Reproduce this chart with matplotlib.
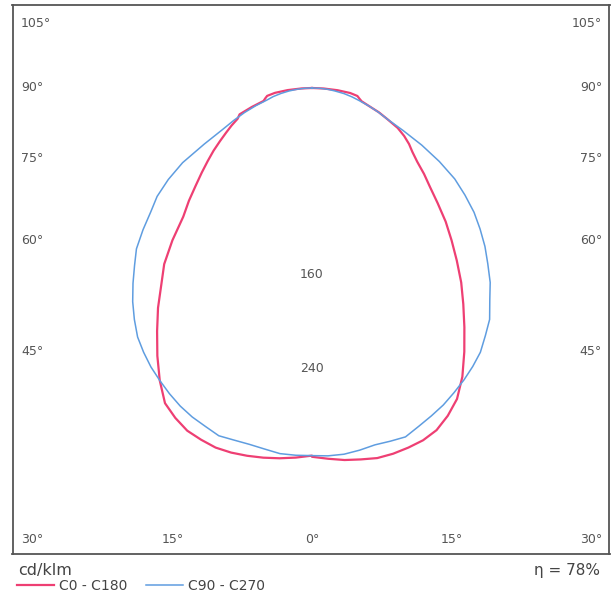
import numpy as np
import matplotlib
matplotlib.use("Agg")
import matplotlib.pyplot as plt

# luminous intensity (cd/klm) every 2.5 deg, gamma 0 (straight down) .. 90
gamma = [0, 2.5, 5, 7.5, 10, 12.5, 15, 17.5, 20, 22.5, 25, 27.5, 30, 32.5, 35, 37.5,
         40, 42.5, 45, 47.5, 50, 52.5, 55, 57.5, 60, 62.5, 65, 67.5, 70, 72.5, 75,
         77.5, 80, 82.5, 85, 87.5, 90]
c0 = [316, 318, 320, 321, 322, 321, 319, 316.5, 312, 304, 294, 279, 261, 243, 226, 210,
      193, 177, 162, 146, 132, 121, 110, 102, 96, 89, 81, 70, 61, 51, 44,
      41.5, 39.5, 33, 22, 10, 0]
c180 = [315, 317, 318.5, 319.5, 320, 320, 319, 316, 312.5, 306, 298, 282.5, 265, 247, 230, 212,
        197, 177, 156, 143, 130, 119, 109, 100, 91, 83, 76, 69, 66, 54, 43,
        41, 39, 32, 21, 9, 0]
c90 = [315, 315.5, 315, 313, 310.5, 310, 309.5, 304, 299, 294, 288, 282, 275.5, 268.5, 259, 250,
       237, 226, 213, 201, 188, 175, 160, 145, 126, 106, 86, 70, 60.5, 51, 42,
       35, 28, 20, 14, 7, 0]
c270 = [315, 315, 314.5, 312, 310, 309, 308.5, 304, 300, 295, 289, 282.5, 276, 268.5, 260.5, 250,
        239, 227, 215, 204, 189, 174, 162, 146, 128, 104, 85, 72.5, 61.5, 50.5, 40,
        34, 27, 20, 13, 6.5, 0]

ring_labels = [160, 240]
side_angles = [105, 90, 75, 60, 45]
bottom_angles = [30, 15, 0, 15, 30]
efficiency = 78

RED = "#ee3f73"
BLUE = "#5f9de0"
GREY = "#555555"


def curve(left, right):
    g = np.radians(gamma)
    xl = -np.array(left) * np.sin(g)
    yl = -np.array(left) * np.cos(g)
    xr = np.array(right) * np.sin(g)
    yr = -np.array(right) * np.cos(g)
    return np.concatenate([xl[::-1], xr]), np.concatenate([yl[::-1], yr])


fig = plt.figure(figsize=(6.16, 5.95), dpi=100)
ax = fig.add_axes([12.5 / 616, 41 / 595, 597 / 616, 549 / 595])

# centre of the diagram sits at (312, 88) px, about 1.167 px per cd/klm
ax.set_xlim(-256.6, 254.9)
ax.set_ylim(-399.3, 71.1)
ax.set_xticks([])
ax.set_yticks([])
for s in ax.spines.values():
    s.set_color(GREY)
    s.set_linewidth(1.3)

x, y = curve(c180, c0)
ax.plot(x, y, color=RED, lw=1.6, label="C0 - C180")
x, y = curve(c270, c90)
ax.plot(x, y, color=BLUE, lw=1.1, label="C90 - C270")

for r in ring_labels:
    ax.text(0, -r, str(r), ha="center", va="center", fontsize=9, color=GREY)

# angle labels on the sides, where the rays meet a line just inside the frame
x_ray = 226
for a in side_angles:
    yy = -x_ray / np.tan(np.radians(a))
    yy = min(yy, 55)
    ax.text(-249.4, yy, f"{a}°", ha="left", va="center", fontsize=9, color=GREY)
    ax.text(248.5, yy, f"{a}°", ha="right", va="center", fontsize=9, color=GREY)

yb = -387.3
corner = 239
for i, a in enumerate(bottom_angles):
    if i == 0:
        ax.text(-249.4, yb, f"{a}°", ha="left", va="center", fontsize=9, color=GREY)
    elif i == len(bottom_angles) - 1:
        ax.text(248.5, yb, f"{a}°", ha="right", va="center", fontsize=9, color=GREY)
    else:
        xx = (i - 2) * corner / 2
        ax.text(xx, yb, f"{a}°", ha="center", va="center", fontsize=9, color=GREY)

fig.text(18 / 616, 1 - 570 / 595, "cd/klm", ha="left", va="center", fontsize=11.5, color="#444444")
fig.text(600 / 616, 1 - 571 / 595, f"η = {efficiency}%", ha="right", va="center", fontsize=11, color="#444444")

fig.legend(loc="lower left", bbox_to_anchor=(14 / 616, 1 - 596 / 595), ncol=2, frameon=False,
           fontsize=10, handlelength=2.7, handletextpad=0.35, columnspacing=1.3,
           borderpad=0, borderaxespad=0.2, labelcolor="#444444")

fig.savefig("out.png", dpi=100)
